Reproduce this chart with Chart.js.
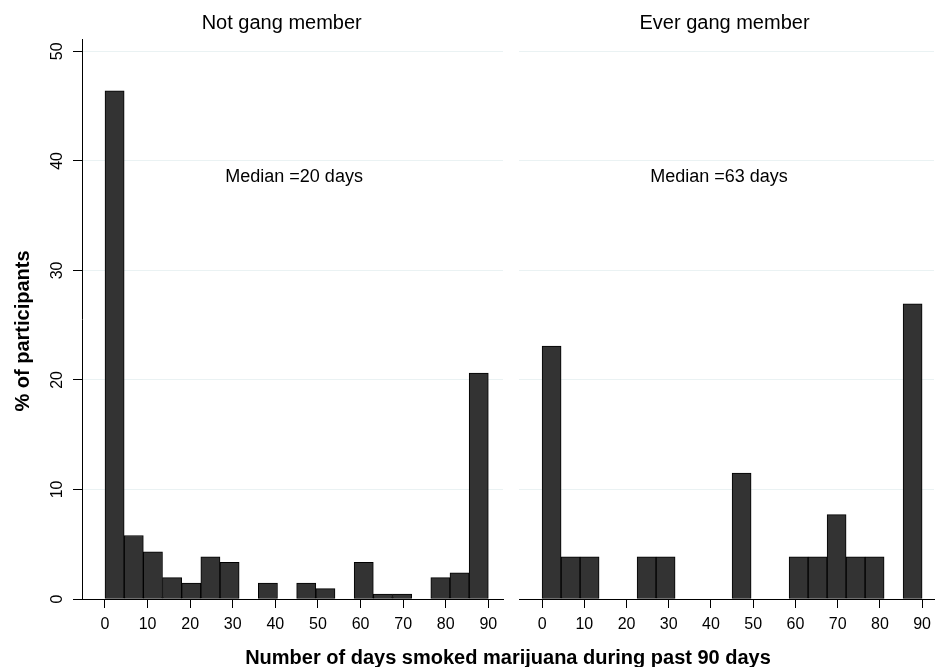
<!DOCTYPE html>
<html>
<head>
<meta charset="utf-8">
<script src="https://cdn.jsdelivr.net/npm/chart.js@4.4.1/dist/chart.umd.min.js"></script>
<style>
  html, body { margin: 0; padding: 0; background: #fff; overflow: hidden; }
  #wrap { position: relative; width: 938px; height: 667px; }
  canvas { position: absolute; top: 0; left: 0; }
</style>
</head>
<body>
<div id="wrap">
  <canvas id="notGangChart" width="938" height="667"></canvas>
  <canvas id="everGangChart" width="938" height="667"></canvas>
</div>
<script>
// histogram bins, 4.5 days wide, from 0 to 90 (bin midpoints)
const binMids = [2.25, 6.75, 11.25, 15.75, 20.25, 24.75, 29.25, 33.75, 38.25, 42.75,
                 47.25, 51.75, 56.25, 60.75, 65.25, 69.75, 74.25, 78.75, 83.25, 87.75];

// % of participants per bin
const notGang  = [46.4, 5.8, 4.3, 1.95, 1.46, 3.84, 3.35, 0, 1.46, 0,
                  1.46, 0.94, 0, 3.35, 0.46, 0.46, 0, 1.95, 2.4, 20.62];
const everGang = [23.1, 3.85, 3.85, 0, 0, 3.85, 3.85, 0, 0, 0,
                  11.5, 0, 0, 3.85, 3.85, 7.7, 3.85, 3.85, 0, 26.95];

const xTicks = [0, 10, 20, 30, 40, 50, 60, 70, 80, 90];
const yTicks = [0, 10, 20, 30, 40, 50];

const panelTitles = ["Not gang member", "Ever gang member"];
const medianNotes = ["Median =20 days", "Median =63 days"];
const xTitle = "Number of days smoked marijuana during past 90 days";
const yTitle = "% of participants";

const FONT = "'Liberation Sans', Arial, Helvetica, sans-serif";
const GRID = "#eaf2f3";

// free text (titles, notes) drawn on top of each panel
const panelText = {
  id: "panelText",
  afterDraw(chart, args, opts) {
    const ctx = chart.ctx;
    (opts.items || []).forEach(it => {
      const x = it.xVal !== undefined ? chart.scales.x.getPixelForValue(it.xVal) : it.x;
      const y = it.yVal !== undefined ? chart.scales.y.getPixelForValue(it.yVal) : it.y;
      ctx.save();
      ctx.font = it.font;
      ctx.fillStyle = "#000";
      ctx.textAlign = "center";
      ctx.textBaseline = "alphabetic";
      ctx.translate(x, y);
      if (it.rotate) ctx.rotate(it.rotate);
      ctx.fillText(it.text, 0, 0);
      ctx.restore();
    });
  }
};

function makePanel(canvasId, values, cfg) {
  const yScale = cfg.showY ? {
    min: 0, max: 51.1,
    afterBuildTicks: s => { s.ticks = yTicks.map(v => ({ value: v })); },
    afterFit: s => { s.width = 82; },
    grid: {
      color: c => (c.tick && c.tick.value === 0) ? "rgba(0,0,0,0)" : GRID,
      tickColor: "#000", tickLength: 9, lineWidth: 1
    },
    border: { color: "#000", width: 1 },
    ticks: {
      minRotation: 90, maxRotation: 90, crossAlign: "center", padding: 7,
      color: "#000", font: { family: FONT, size: 16 }
    }
  } : {
    min: 0, max: 51.1,
    afterBuildTicks: s => { s.ticks = yTicks.map(v => ({ value: v })); },
    afterFit: s => { s.width = 0; },
    grid: {
      color: c => (c.tick && c.tick.value === 0) ? "rgba(0,0,0,0)" : GRID,
      drawTicks: false, lineWidth: 1
    },
    border: { display: false },
    ticks: { display: false }
  };

  return new Chart(document.getElementById(canvasId), {
    type: "bar",
    data: {
      datasets: [{
        data: binMids.map((x, i) => ({ x, y: values[i] })),
        backgroundColor: "#333333",
        borderColor: "#000",
        borderWidth: 1,
        borderSkipped: false,
        barPercentage: 1,
        categoryPercentage: 1
      }]
    },
    plugins: [panelText],
    options: {
      responsive: false,
      animation: false,
      devicePixelRatio: 1,
      layout: { padding: cfg.padding },
      plugins: {
        legend: { display: false },
        tooltip: { enabled: false },
        panelText: { items: cfg.texts }
      },
      scales: {
        x: {
          type: "linear", min: cfg.xMin, max: cfg.xMax, offset: false,
          afterBuildTicks: s => { s.ticks = xTicks.map(v => ({ value: v })); },
          afterFit: s => { s.height = 68; },
          grid: { drawOnChartArea: false, offset: false, tickLength: 9, tickColor: "#000" },
          border: { color: "#000", width: 1 },
          ticks: {
            padding: 7, maxRotation: 0, autoSkip: false,
            color: "#000", font: { family: FONT, size: 16 }
          }
        },
        y: yScale
      }
    }
  });
}

makePanel("notGangChart", notGang, {
  showY: true,
  xMin: -5.4, xMax: 93.45,
  padding: { top: 39.3, left: 0, right: 435, bottom: 0 },
  texts: [
    { text: panelTitles[0], x: 281.7, y: 29.3, font: "20px " + FONT },
    { text: medianNotes[0], xVal: 44.4, yVal: 38.1, font: "18px " + FONT },
    { text: yTitle, x: 28.5, y: 331, rotate: -Math.PI / 2, font: "bold 20px " + FONT },
    { text: xTitle, x: 508, y: 664, font: "bold 20px " + FONT }
  ]
});

makePanel("everGangChart", everGang, {
  showY: false,
  xMin: -5.47, xMax: 92.82,
  padding: { top: 39.3, left: 519, right: 0, bottom: 0 },
  texts: [
    { text: panelTitles[1], x: 724.5, y: 29.3, font: "20px " + FONT },
    { text: medianNotes[1], xVal: 41.9, yVal: 38.1, font: "18px " + FONT }
  ]
});
</script>
</body>
</html>
